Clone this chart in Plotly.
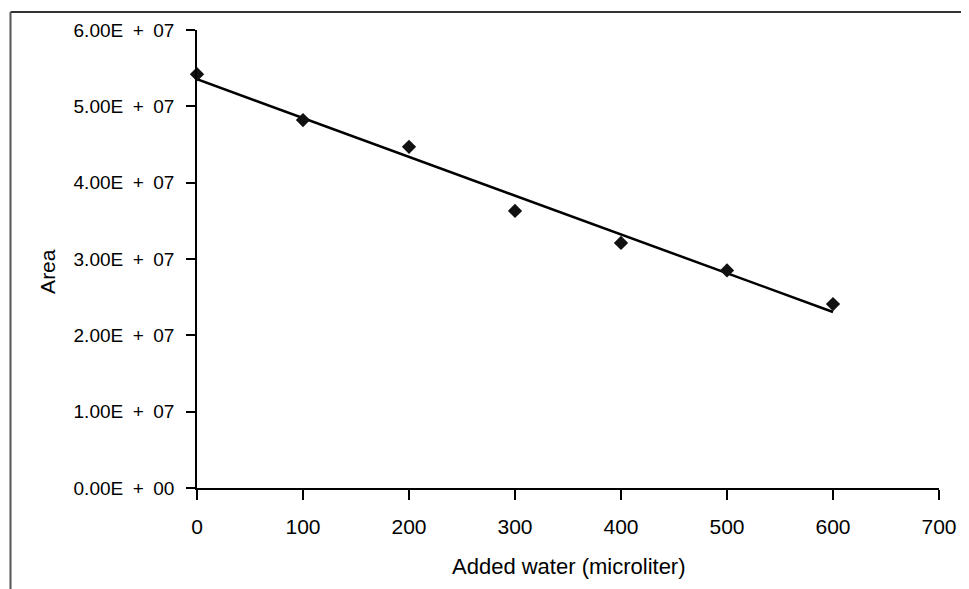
import numpy as np
import plotly.graph_objects as go

# Data
added_water = [0, 100, 200, 300, 400, 500, 600]          # microliter
area = [5.42e7, 4.82e7, 4.47e7, 3.63e7, 3.21e7, 2.85e7, 2.41e7]

x_ticks = [0, 100, 200, 300, 400, 500, 600, 700]
y_ticks = [0, 1e7, 2e7, 3e7, 4e7, 5e7, 6e7]
y_tick_text = ["0.00E\u2002+\u200200", "1.00E\u2002+\u200207", "2.00E\u2002+\u200207",
               "3.00E\u2002+\u200207", "4.00E\u2002+\u200207", "5.00E\u2002+\u200207",
               "6.00E\u2002+\u200207"]
x_title = "Added water (microliter)"
y_title = "Area"

# Linear trendline (least squares) over the data
slope, intercept = np.polyfit(added_water, area, 1)
trend_x = [min(added_water), max(added_water)]
trend_y = [slope * v + intercept for v in trend_x]

# page has an 8px body margin; figure sized to fit the 969x589 window
OFF = 8
W, H = 969 - OFF, 589 - OFF
ml, mr, mt, mb = 197 - OFF, 969 - 941, 29 - OFF, 589 - 488
pw = W - ml - mr
ph = H - mt - mb


def px_x(page_x):
    return (page_x - OFF - ml) / pw


def px_y(page_y):
    return (H - mb - (page_y - OFF)) / ph


fig = go.Figure()
fig.add_trace(go.Scatter(x=trend_x, y=trend_y, mode="lines",
                         line=dict(color="black", width=2.5),
                         showlegend=False, hoverinfo="skip", cliponaxis=False))
fig.add_trace(go.Scatter(x=added_water, y=area, mode="markers",
                         marker=dict(symbol="diamond", size=11, color="#111111",
                                     line=dict(width=0)),
                         showlegend=False, cliponaxis=False))

font = "Liberation Sans, Arial, sans-serif"
fig.update_layout(
    width=W, height=H,
    margin=dict(l=ml, r=mr, t=mt, b=mb),
    paper_bgcolor="white", plot_bgcolor="white",
    font=dict(family=font, color="black"),
    xaxis=dict(range=[0, 700], tickvals=x_ticks, ticks="outside", ticklen=10,
               tickcolor="black", tickwidth=1.5, showline=True, linecolor="black",
               linewidth=1.5, showgrid=False, zeroline=False,
               tickfont=dict(size=21, family=font), ticklabelstandoff=9),
    yaxis=dict(range=[0, 6e7], tickvals=y_ticks, ticktext=y_tick_text, ticks="outside",
               ticklen=9, tickcolor="black", tickwidth=1.5, showline=True,
               linecolor="black", linewidth=1.5, showgrid=False, zeroline=False,
               tickfont=dict(size=19, family=font), ticklabelstandoff=8),
)

fig.add_annotation(text=x_title, xref="paper", yref="paper", x=px_x(570), y=px_y(567),
                   xanchor="center", yanchor="middle", showarrow=False,
                   font=dict(size=22, family=font, color="black"))
fig.add_annotation(text=y_title, xref="paper", yref="paper", x=px_x(47), y=px_y(271),
                   xanchor="center", yanchor="middle", showarrow=False, textangle=-90,
                   font=dict(size=21, family=font, color="black"))

# Outer frame lines (left and top) of the cropped figure
x_left = px_x(10)
y_top = px_y(11)
fig.add_shape(type="line", xref="paper", yref="paper", x0=x_left, x1=px_x(975),
              y0=y_top, y1=y_top, line=dict(color="#333333", width=2))
fig.add_shape(type="line", xref="paper", yref="paper", x0=x_left, x1=x_left,
              y0=y_top, y1=px_y(600), line=dict(color="#555555", width=2))

fig.write_html("out.html")
